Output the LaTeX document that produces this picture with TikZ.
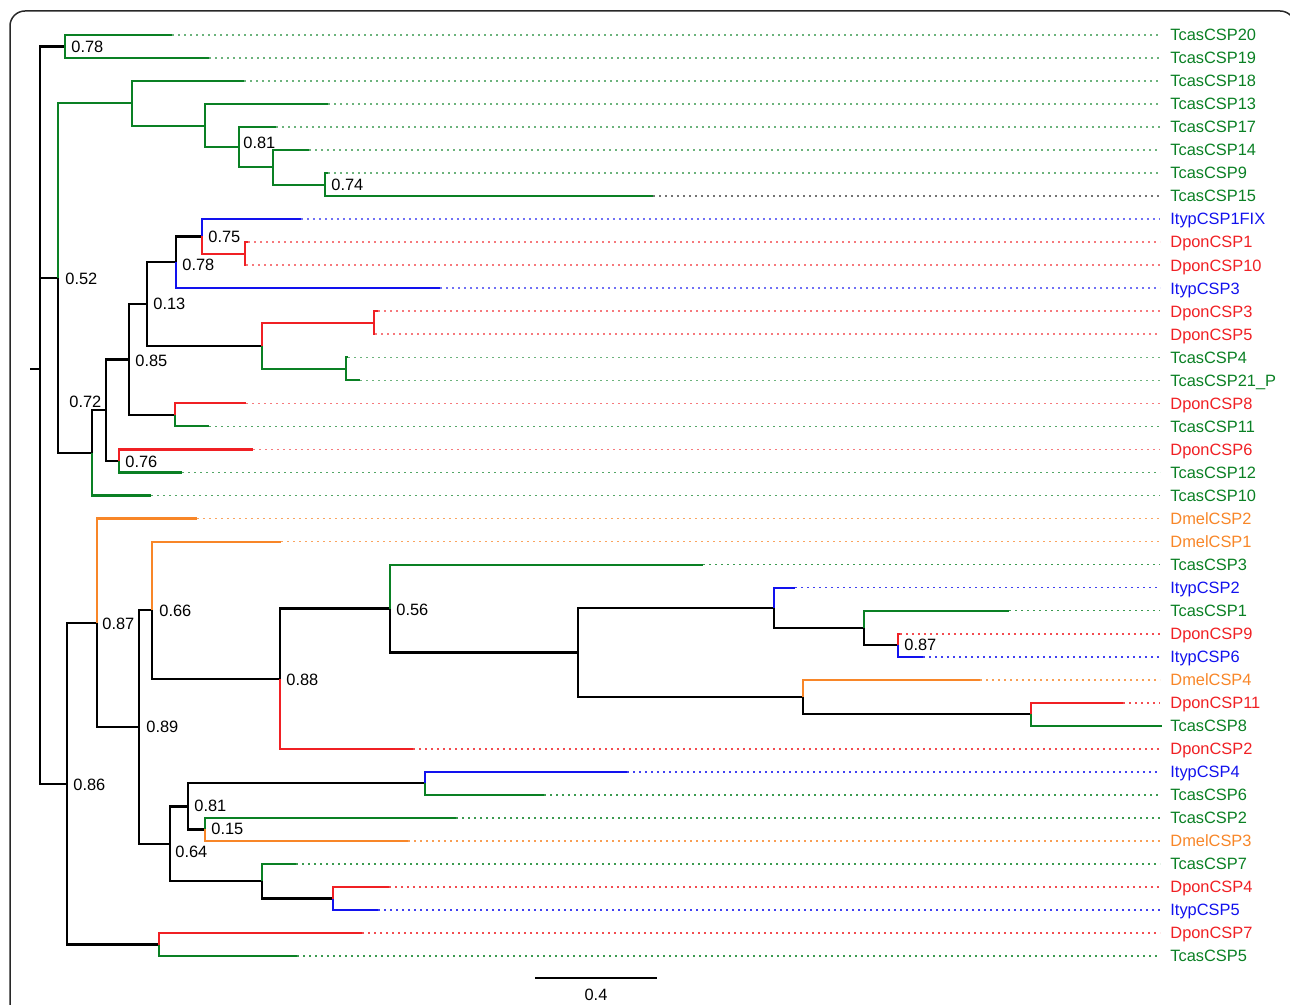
\documentclass[tikz,border=0pt]{standalone}
\usepackage{fontspec}
\setmainfont{Liberation Sans}
\usepackage{tikz}
\definecolor{tgreen}{RGB}{10,128,36}
\definecolor{dred}{RGB}{240,32,36}
\definecolor{iblue}{RGB}{18,18,238}
\definecolor{morange}{RGB}{248,134,40}
\definecolor{mframe}{RGB}{40,40,40}
\tikzset{
  branch/.style={line width=1.1pt, color=black},
  gbranch/.style={branch, color=tgreen},
  rbranch/.style={branch, color=dred},
  bbranch/.style={branch, color=iblue},
  obranch/.style={branch, color=morange},
  dotline/.style={line width=0.8pt, dash pattern=on 0.8pt off 2.2pt, shorten >=5pt},
  leaflab/.style={anchor=west, inner sep=0pt, text height=5.8pt, text depth=0pt,
    font=\fontsize{8.2}{9}\selectfont},
  bootval/.style={anchor=west, inner sep=0pt, text height=5.8pt, text depth=0pt,
    font=\fontsize{8.2}{9}\selectfont},
  scalelab/.style={inner sep=0pt, text height=5.8pt, text depth=0pt,
    font=\fontsize{8.2}{9}\selectfont},
  panel/.style={draw=mframe, line width=0.75pt, rounded corners=7.5pt}
}

\begin{document}
\begin{tikzpicture}[x=0.5pt, y=-0.5pt]
  \useasboundingbox (0,0) rectangle (1290,1005);
  \clip (0,0) rectangle (1290,1005);
  % panel frame
  \draw[panel] (10,1030) -- (10,11) -- (1295,11) -- (1295,1030);

  % leaves: tip, label, dotted guide
  \coordinate (t0) at (172,35.0);   \node[leaflab,text=tgreen] (l0) at (1170,35.0) {TcasCSP20};    \draw[dotline,tgreen!60] (t0) -- (l0.west);
  \coordinate (t1) at (209,58.0);   \node[leaflab,text=tgreen] (l1) at (1170,58.0) {TcasCSP19};    \draw[dotline,tgreen!60] (t1) -- (l1.west);
  \coordinate (t2) at (244,81.1);   \node[leaflab,text=tgreen] (l2) at (1170,81.1) {TcasCSP18};    \draw[dotline,tgreen!60] (t2) -- (l2.west);
  \coordinate (t3) at (328,104.1);  \node[leaflab,text=tgreen] (l3) at (1170,104.1) {TcasCSP13};   \draw[dotline,tgreen!60] (t3) -- (l3.west);
  \coordinate (t4) at (276,127.1);  \node[leaflab,text=tgreen] (l4) at (1170,127.1) {TcasCSP17};   \draw[dotline,tgreen!60] (t4) -- (l4.west);
  \coordinate (t5) at (309,150.1);  \node[leaflab,text=tgreen] (l5) at (1170,150.1) {TcasCSP14};   \draw[dotline,tgreen!60] (t5) -- (l5.west);
  \coordinate (t6) at (328,173.2);  \node[leaflab,text=tgreen] (l6) at (1170,173.2) {TcasCSP9};    \draw[dotline,tgreen!60] (t6) -- (l6.west);
  \coordinate (t7) at (653,196.2);  \node[leaflab,text=tgreen] (l7) at (1170,196.2) {TcasCSP15};   \draw[dotline,black!55] (t7) -- (l7.west);
  \coordinate (t8) at (301,219.2);  \node[leaflab,text=iblue] (l8) at (1170,219.2) {ItypCSP1FIX};  \draw[dotline,iblue!60] (t8) -- (l8.west);
  \coordinate (t9) at (248,242.2);  \node[leaflab,text=dred] (l9) at (1170,242.2) {DponCSP1};      \draw[dotline,dred!60] (t9) -- (l9.west);
  \coordinate (t10) at (246,265.3); \node[leaflab,text=dred] (l10) at (1170,265.3) {DponCSP10};    \draw[dotline,dred!60] (t10) -- (l10.west);
  \coordinate (t11) at (440,288.3); \node[leaflab,text=iblue] (l11) at (1170,288.3) {ItypCSP3};    \draw[dotline,iblue!60] (t11) -- (l11.west);
  \coordinate (t12) at (378,311.3); \node[leaflab,text=dred] (l12) at (1170,311.3) {DponCSP3};     \draw[dotline,dred!60] (t12) -- (l12.west);
  \coordinate (t13) at (375,334.3); \node[leaflab,text=dred] (l13) at (1170,334.3) {DponCSP5};     \draw[dotline,dred!60] (t13) -- (l13.west);
  \coordinate (t14) at (348,357.4); \node[leaflab,text=tgreen] (l14) at (1170,357.4) {TcasCSP4};   \draw[dotline,tgreen!60] (t14) -- (l14.west);
  \coordinate (t15) at (360,380.4); \node[leaflab,text=tgreen] (l15) at (1170,380.4) {TcasCSP21\_P}; \draw[dotline,tgreen!60] (t15) -- (l15.west);
  \coordinate (t16) at (246,403.4); \node[leaflab,text=dred] (l16) at (1170,403.4) {DponCSP8};     \draw[dotline,dred!60] (t16) -- (l16.west);
  \coordinate (t17) at (209,426.4); \node[leaflab,text=tgreen] (l17) at (1170,426.4) {TcasCSP11};  \draw[dotline,tgreen!70] (t17) -- (l17.west);
  \coordinate (t18) at (253,449.5); \node[leaflab,text=dred] (l18) at (1170,449.5) {DponCSP6};     \draw[dotline,dred!60] (t18) -- (l18.west);
  \coordinate (t19) at (182,472.5); \node[leaflab,text=tgreen] (l19) at (1170,472.5) {TcasCSP12};  \draw[dotline,tgreen!70] (t19) -- (l19.west);
  \coordinate (t20) at (151,495.5); \node[leaflab,text=tgreen] (l20) at (1170,495.5) {TcasCSP10};  \draw[dotline,tgreen!70] (t20) -- (l20.west);
  \coordinate (t21) at (197,518.5); \node[leaflab,text=morange] (l21) at (1170,518.5) {DmelCSP2};  \draw[dotline,morange!75] (t21) -- (l21.west);
  \coordinate (t22) at (281,541.6); \node[leaflab,text=morange] (l22) at (1170,541.6) {DmelCSP1};  \draw[dotline,morange!75] (t22) -- (l22.west);
  \coordinate (t23) at (703,564.6); \node[leaflab,text=tgreen] (l23) at (1170,564.6) {TcasCSP3};   \draw[dotline,tgreen!80] (t23) -- (l23.west);
  \coordinate (t24) at (795,587.6); \node[leaflab,text=iblue] (l24) at (1170,587.6) {ItypCSP2};    \draw[dotline,iblue!80] (t24) -- (l24.west);
  \coordinate (t25) at (1009,610.6); \node[leaflab,text=tgreen] (l25) at (1170,610.6) {TcasCSP1};  \draw[dotline,tgreen!80] (t25) -- (l25.west);
  \coordinate (t26) at (900,633.7); \node[leaflab,text=dred] (l26) at (1170,633.7) {DponCSP9};     \draw[dotline,dred!80] (t26) -- (l26.west);
  \coordinate (t27) at (923,656.7); \node[leaflab,text=iblue] (l27) at (1170,656.7) {ItypCSP6};    \draw[dotline,iblue!80] (t27) -- (l27.west);
  \coordinate (t28) at (980,679.7); \node[leaflab,text=morange] (l28) at (1170,679.7) {DmelCSP4};  \draw[dotline,morange!80] (t28) -- (l28.west);
  \coordinate (t29) at (1123,702.7); \node[leaflab,text=dred] (l29) at (1170,702.7) {DponCSP11};   \draw[dotline,dred!80] (t29) -- (l29.west);
  \coordinate (t30) at (1162,725.8); \node[leaflab,text=tgreen] (l30) at (1170,725.8) {TcasCSP8};
  \coordinate (t31) at (413,748.8); \node[leaflab,text=dred] (l31) at (1170,748.8) {DponCSP2};     \draw[dotline,dred!80] (t31) -- (l31.west);
  \coordinate (t32) at (627,771.8); \node[leaflab,text=iblue] (l32) at (1170,771.8) {ItypCSP4};    \draw[dotline,iblue!80] (t32) -- (l32.west);
  \coordinate (t33) at (544,794.8); \node[leaflab,text=tgreen] (l33) at (1170,794.8) {TcasCSP6};   \draw[dotline,tgreen!80] (t33) -- (l33.west);
  \coordinate (t34) at (456,817.9); \node[leaflab,text=tgreen] (l34) at (1170,817.9) {TcasCSP2};   \draw[dotline,tgreen!80] (t34) -- (l34.west);
  \coordinate (t35) at (408,840.9); \node[leaflab,text=morange] (l35) at (1170,840.9) {DmelCSP3};  \draw[dotline,morange!80] (t35) -- (l35.west);
  \coordinate (t36) at (296,863.9); \node[leaflab,text=tgreen] (l36) at (1170,863.9) {TcasCSP7};   \draw[dotline,tgreen!80] (t36) -- (l36.west);
  \coordinate (t37) at (389,886.9); \node[leaflab,text=dred] (l37) at (1170,886.9) {DponCSP4};     \draw[dotline,dred!80] (t37) -- (l37.west);
  \coordinate (t38) at (378,910.0); \node[leaflab,text=iblue] (l38) at (1170,910.0) {ItypCSP5};    \draw[dotline,iblue!80] (t38) -- (l38.west);
  \coordinate (t39) at (362,933.0); \node[leaflab,text=dred] (l39) at (1170,933.0) {DponCSP7};     \draw[dotline,dred!80] (t39) -- (l39.west);
  \coordinate (t40) at (297,956.0); \node[leaflab,text=tgreen] (l40) at (1170,956.0) {TcasCSP5};   \draw[dotline,tgreen!80] (t40) -- (l40.west);

  % internal nodes
  \coordinate (r0) at (30,369.4);
  \coordinate (root) at (40,369.4);
  \coordinate (n078) at (65,46.5);
  \coordinate (n052) at (58,278.2);
  \coordinate (g1) at (132,103.4);
  \coordinate (g2) at (205,125.7);
  \coordinate (g3) at (239,147.3);
  \coordinate (g4) at (273,167.4);
  \coordinate (g5) at (325,184.7);
  \coordinate (c9) at (92,452.9);
  \coordinate (c8) at (106,410.3);
  \coordinate (c6) at (129,359.5);
  \coordinate (c4) at (147,304.1);
  \coordinate (c1) at (176,262.4);
  \coordinate (c2) at (202,236.5);
  \coordinate (d1) at (245,253.8);
  \coordinate (c3) at (262,345.9);
  \coordinate (d3) at (374,322.8);
  \coordinate (g6) at (346,368.9);
  \coordinate (c5) at (175,414.9);
  \coordinate (c7) at (119,461.0);
  \coordinate (n086) at (67,783.6);
  \coordinate (e11) at (97,622.7);
  \coordinate (e10) at (139,727.0);
  \coordinate (e9) at (152,610.1);
  \coordinate (e8) at (280,678.7);
  \coordinate (e7) at (390,608.5);
  \coordinate (e6) at (578,652.4);
  \coordinate (e3) at (774,607.8);
  \coordinate (e2) at (864,627.9);
  \coordinate (e1) at (898,645.2);
  \coordinate (e5) at (803,697.0);
  \coordinate (e4) at (1031,714.3);
  \coordinate (f6) at (170,843.8);
  \coordinate (f3) at (188,806.4);
  \coordinate (f1) at (425,783.3);
  \coordinate (f2) at (205,829.4);
  \coordinate (f5) at (262,881.2);
  \coordinate (f4) at (333,898.5);
  \coordinate (h1) at (159,944.5);

  % upper clade
  \draw[branch] (r0) -- (root);
  \draw[branch] (root) |- (n078) (root) |- (n052) (root) |- (n086);
  \draw[gbranch] (n078) |- (t0) (n078) |- (t1) (n052) |- (g1);
  \draw[gbranch] (g1) |- (t2) (g1) |- (g2) (g2) |- (t3) (g2) |- (g3)
    (g3) |- (t4) (g3) |- (g4) (g4) |- (t5) (g4) |- (g5) (g5) |- (t6) (g5) |- (t7);
  \draw[branch] (n052) |- (c9) (c9) |- (c8) (c8) |- (c6) (c8) |- (c7)
    (c6) |- (c4) (c6) |- (c5) (c4) |- (c1) (c4) |- (c3) (c1) |- (c2);
  \draw[gbranch] (c9) |- (t20) (c3) |- (g6) (g6) |- (t14) (g6) |- (t15)
    (c5) |- (t17) (c7) |- (t19);
  \draw[bbranch] (c1) |- (t11) (c2) |- (t8);
  \draw[rbranch] (c2) |- (d1) (d1) |- (t9) (d1) |- (t10) (c3) |- (d3)
    (d3) |- (t12) (d3) |- (t13) (c5) |- (t16) (c7) |- (t18);

  % lower clade
  \draw[branch] (n086) |- (e11) (n086) |- (h1) (e11) |- (e10) (e10) |- (e9)
    (e10) |- (f6) (e9) |- (e8) (e8) |- (e7) (e7) |- (e6) (e6) |- (e3)
    (e6) |- (e5) (e3) |- (e2) (e2) |- (e1) (e5) |- (e4) (f6) |- (f3)
    (f6) |- (f5) (f3) |- (f1) (f3) |- (f2) (f5) |- (f4);
  \draw[obranch] (e11) |- (t21) (e9) |- (t22) (e5) |- (t28) (f2) |- (t35);
  \draw[gbranch] (e7) |- (t23) (e2) |- (t25) (e4) |- (t30) (f1) |- (t33)
    (f2) |- (t34) (f5) |- (t36) (h1) |- (t40);
  \draw[rbranch] (e8) |- (t31) (e1) |- (t26) (e4) |- (t29) (f4) |- (t37) (h1) |- (t39);
  \draw[bbranch] (e3) |- (t24) (e1) |- (t27) (f1) |- (t32) (f4) |- (t38);

  % support values
  \node[bootval] (s1) at (71,47) {0.78};
  \node[bootval] (s2) at (243,143) {0.81};
  \node[bootval] (s3) at (331,185) {0.74};
  \node[bootval] (s4) at (208,237) {0.75};
  \node[bootval] (s5) at (182,265) {0.78};
  \node[bootval] (s6) at (65,279) {0.52};
  \node[bootval] (s7) at (153,304) {0.13};
  \node[bootval] (s8) at (135,361) {0.85};
  \node[bootval] (s9) at (69,402) {0.72};
  \node[bootval] (s10) at (125,462) {0.76};
  \node[bootval] (s11) at (102,624) {0.87};
  \node[bootval] (s12) at (159,611) {0.66};
  \node[bootval] (s13) at (396,610) {0.56};
  \node[bootval] (s14) at (286,680) {0.88};
  \node[bootval] (s15) at (904,645) {0.87};
  \node[bootval] (s16) at (146,727) {0.89};
  \node[bootval] (s17) at (73,785) {0.86};
  \node[bootval] (s18) at (194,806) {0.81};
  \node[bootval] (s19) at (211,829) {0.15};
  \node[bootval] (s20) at (175,852) {0.64};

  % scale bar
  \coordinate (sb0) at (535,978);
  \coordinate (sb1) at (657,978);
  \draw[branch] (sb0) -- (sb1);
  \node[scalelab] (sbl) at (596,995) {0.4};
\end{tikzpicture}
\end{document}
